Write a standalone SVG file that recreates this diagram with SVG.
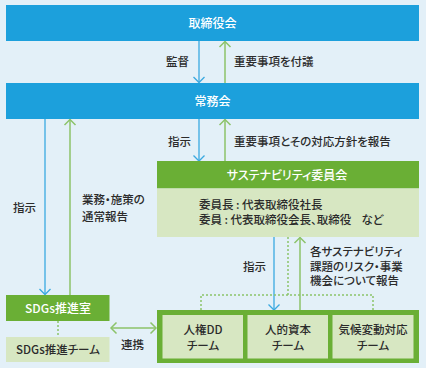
<svg xmlns="http://www.w3.org/2000/svg" width="426" height="368" viewBox="0 0 426 368">
<defs>
<style>
text{font-family:"Noto Sans CJK JP","Noto Sans",sans-serif;font-size:11.5px;fill:#2b2b2b;font-feature-settings:"palt";font-weight:500}
.w{fill:#ffffff;font-size:12px}
.c{text-anchor:middle}
.blue{fill:#1ca0dc}
.green{fill:#6aaf35}
.lg{fill:#d7e7c2}
.ab{stroke:#3aa9e0;stroke-width:1.3;fill:none}
.ag{stroke:#8cc36a;stroke-width:1.5;fill:none}
.dot{stroke:#8cc36a;stroke-width:1.5;fill:none;stroke-dasharray:2 2}
</style>
<marker id="hb" viewBox="-7 -7 9 14" markerWidth="9" markerHeight="14" refX="0" refY="0" orient="auto" markerUnits="userSpaceOnUse">
<path d="M-5.5,-5.5 L0,0 L-5.5,5.5" fill="none" stroke="#3aa9e0" stroke-width="1.3"/>
</marker>
<marker id="hg" viewBox="-7 -7 9 14" markerWidth="9" markerHeight="14" refX="0" refY="0" orient="auto" markerUnits="userSpaceOnUse">
<path d="M-5.5,-5.5 L0,0 L-5.5,5.5" fill="none" stroke="#8cc36a" stroke-width="1.5"/>
</marker>
<marker id="hgs" viewBox="-7 -7 9 14" markerWidth="9" markerHeight="14" refX="0" refY="0" orient="auto-start-reverse" markerUnits="userSpaceOnUse">
<path d="M-5.5,-5.5 L0,0 L-5.5,5.5" fill="none" stroke="#8cc36a" stroke-width="1.5"/>
</marker>
</defs>
<rect x="0" y="0" width="426" height="368" fill="#e3f0f8"/>

<g id="connectors">
<line class="ab" x1="199" y1="41" x2="199" y2="82.5" marker-end="url(#hb)"/>
<line class="ag" x1="225" y1="83" x2="225" y2="41.5" marker-end="url(#hg)"/>
<line class="ab" x1="45" y1="119" x2="45" y2="294.5" marker-end="url(#hb)"/>
<line class="ag" x1="70" y1="295" x2="70" y2="119.5" marker-end="url(#hg)"/>
<line class="ab" x1="199" y1="119" x2="199" y2="161" marker-end="url(#hb)"/>
<line class="ag" x1="225" y1="161" x2="225" y2="119.5" marker-end="url(#hg)"/>
<line class="ab" x1="274" y1="237" x2="274" y2="310" marker-end="url(#hb)"/>
<line class="ag" x1="300" y1="310" x2="300" y2="237.5" marker-end="url(#hg)"/>
<path class="dot" d="M288,237 V295 M201,310 V295 H373 V310"/>
<line class="dot" x1="58" y1="321" x2="58" y2="337"/>
<line class="ag" x1="111" y1="328" x2="156" y2="328" marker-start="url(#hgs)" marker-end="url(#hg)"/>
<text x="189" y="66" text-anchor="end">監督</text>
<text x="234" y="66">重要事項を付議</text>
<text x="168" y="146">指示</text>
<text x="234" y="146">重要事項とその対応方針を報告</text>
<text x="13" y="212">指示</text>
<text x="82" y="204">業務・施策の</text>
<text x="82" y="221">通常報告</text>
<text x="243" y="271">指示</text>
<text x="310" y="256">各サステナビリティ</text>
<text x="310" y="270.5">課題のリスク・事業</text>
<text x="310" y="285">機会について報告</text>
<text x="132.5" y="349" class="c">連携</text>
</g>

<g id="board">
<rect class="blue" x="6" y="5" width="413" height="36"/>
<text class="w c" x="212.5" y="27.5">取締役会</text>
</g>

<g id="executive">
<rect class="blue" x="6" y="83" width="413" height="36"/>
<text class="w c" x="212.5" y="105.5">常務会</text>
</g>

<g id="sustainability-committee">
<rect class="green" x="157" y="161" width="262" height="27.5"/>
<rect class="lg" x="157" y="188.5" width="262" height="48.5"/>
<text class="w c" x="287" y="180">サステナビリティ委員会</text>
<text x="199" y="209">委員長 : 代表取締役社長</text>
<text x="199" y="224">委員 : 代表取締役会長、取締役<tspan dx="10">など</tspan></text>
</g>

<g id="sdgs-office">
<rect class="green" x="6" y="295" width="103.5" height="26"/>
<text class="w c" x="58" y="312.5">SDGs推進室</text>
</g>

<g id="sdgs-team">
<rect class="lg" x="6" y="337" width="103.5" height="25"/>
<text class="c" x="58" y="353.5">SDGs推進チーム</text>
</g>

<g id="teams">
<rect class="green" x="157" y="310" width="262" height="53"/>
<g id="team-hr-dd">
<rect class="lg" x="162.5" y="315" width="80.5" height="43.5"/>
<text class="c" x="203" y="334">人権DD</text>
<text class="c" x="203" y="349.5">チーム</text>
</g>
<g id="team-human-capital">
<rect class="lg" x="247.5" y="315" width="80.5" height="43.5"/>
<text class="c" x="288" y="334">人的資本</text>
<text class="c" x="288" y="349.5">チーム</text>
</g>
<g id="team-climate">
<rect class="lg" x="332.5" y="315" width="81" height="43.5"/>
<text class="c" x="373" y="334">気候変動対応</text>
<text class="c" x="373" y="349.5">チーム</text>
</g>
</g>
</svg>
